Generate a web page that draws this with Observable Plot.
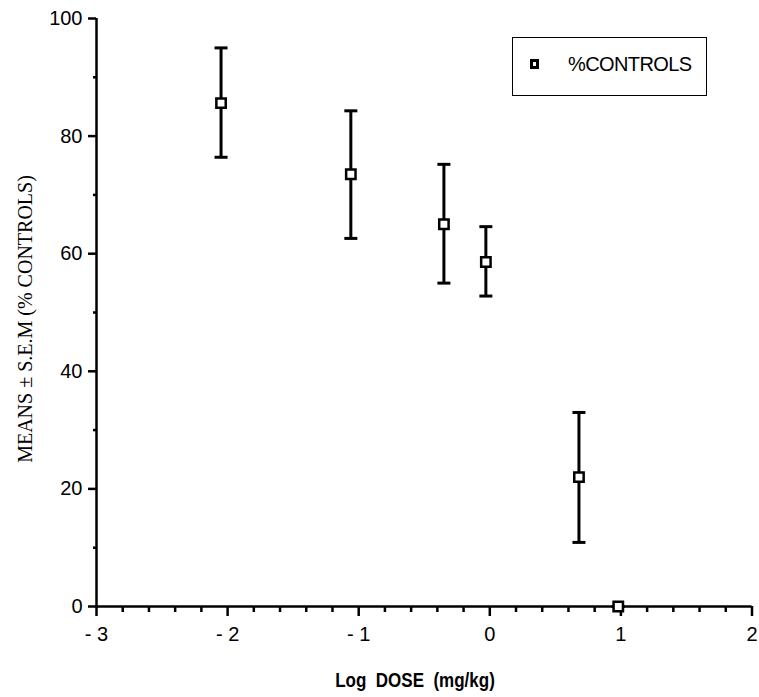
<!DOCTYPE html>
<html>
<head>
<meta charset="utf-8">
<script src="https://cdn.jsdelivr.net/npm/d3@7"></script>
<script src="https://cdn.jsdelivr.net/npm/@observablehq/plot@0.6"></script>
<style>
  body { margin: 0; background: #fff; }
  #wrap { position: relative; width: 759px; height: 697px; }
  #legend {
    position: absolute; left: 512px; top: 37px; width: 195px; height: 59px;
    box-sizing: border-box; border: 1.5px solid #000; background: #fff;
    font-family: "Liberation Sans", Arial, sans-serif; font-size: 20px;
  }
  #legend .sw {
    position: absolute; left: 17px; top: 21px; width: 9px; height: 10px;
    box-sizing: border-box; border: 3px solid #000; background: #fff;
  }
  #legend .tx { position: absolute; left: 55px; top: 15px; letter-spacing: -0.6px; }
  #ylab {
    position: absolute; left: 25px; top: 319px; white-space: nowrap;
    transform: translate(-50%, -50%) rotate(-90deg);
    font-family: "Liberation Serif", "Times New Roman", serif; font-size: 20px;
  }
  #xlab {
    position: absolute; left: 415px; top: 680px; white-space: pre;
    transform: translate(-50%, -50%) scale(0.85, 1);
    font-family: "Liberation Sans", Arial, sans-serif; font-size: 20px; font-weight: bold;
  }
</style>
</head>
<body>
<div id="wrap"></div>
<script>
// Data
const logDose = [-2.05, -1.06, -0.35, -0.03, 0.68, 0.98];
const meanPct = [85.6, 73.5, 65.0, 58.6, 22.0, 0];
const semHigh = [95.0, 84.3, 75.2, 64.6, 33.0, 0];
const semLow  = [76.4, 62.6, 55.0, 52.8, 10.9, 0];

const xTicks = [-3, -2, -1, 0, 1, 2];
const yTicks = [0, 20, 40, 60, 80, 100];
const yMinorTicks = [10, 30, 50, 70, 90];
const xMinorTicks = d3.range(-3, 2.0001, 0.2)
  .map(v => +v.toFixed(1))
  .filter(v => Math.abs(v - Math.round(v)) > 1e-6);

const legendLabel = "%CONTROLS";
const xTitle = "Log  DOSE  (mg/kg)";
const yTitle = "MEANS \u00b1 S.E.M (% CONTROLS)";

const data = logDose.map((x, i) => ({x, mean: meanPct[i], hi: semHigh[i], lo: semLow[i]}));

const capSymbol = {
  draw(ctx, size) {
    const r = Math.sqrt(size / Math.PI);
    ctx.moveTo(-r, 0);
    ctx.lineTo(r, 0);
  }
};

const fmtX = d => d < 0 ? "- " + (-d) : String(d);

const chart = Plot.plot({
  width: 759,
  height: 697,
  marginLeft: 96,
  marginRight: 7.5,
  marginTop: 18,
  marginBottom: 91,
  style: {fontFamily: "'Liberation Sans', Arial, sans-serif", fontSize: "20px", background: "#fff", color: "#000"},
  x: {domain: [-3, 2]},
  y: {domain: [0, 100]},
  marks: [
    Plot.axisY({ticks: yTicks, tickSize: 8, tickPadding: 6, strokeWidth: 2.5, label: null, fontSize: 20}),
    Plot.axisY({ticks: yMinorTicks, tickSize: 3, strokeWidth: 2.5, tickFormat: () => "", label: null}),
    Plot.axisX({ticks: xTicks, tickSize: 10, tickPadding: 10, strokeWidth: 2.5, tickFormat: fmtX, label: null, fontSize: 20}),
    Plot.axisX({ticks: xMinorTicks, tickSize: 6, strokeWidth: 2.5, tickFormat: () => "", label: null}),
    Plot.ruleX([-3], {stroke: "#000", strokeWidth: 2.5}),
    Plot.ruleY([0], {stroke: "#000", strokeWidth: 2.5}),
    Plot.ruleX(data, {x: "x", y1: "lo", y2: "hi", stroke: "#000", strokeWidth: 3}),
    Plot.dot(data, {x: "x", y: "hi", symbol: capSymbol, r: 6.5, stroke: "#000", strokeWidth: 3, fill: "none"}),
    Plot.dot(data, {x: "x", y: "lo", symbol: capSymbol, r: 6.5, stroke: "#000", strokeWidth: 3, fill: "none"}),
    Plot.dot(data, {x: "x", y: "mean", symbol: "square", r: 5.3, stroke: "#000", strokeWidth: 2.5, fill: "#fff"})
  ]
});

const wrap = document.getElementById("wrap");
wrap.appendChild(chart);

const legend = document.createElement("div");
legend.id = "legend";
legend.innerHTML = '<div class="sw"></div><div class="tx"></div>';
legend.querySelector(".tx").textContent = legendLabel;
wrap.appendChild(legend);

const yl = document.createElement("div");
yl.id = "ylab"; yl.textContent = yTitle; wrap.appendChild(yl);
const xl = document.createElement("div");
xl.id = "xlab"; xl.textContent = xTitle; wrap.appendChild(xl);
</script>
</body>
</html>
